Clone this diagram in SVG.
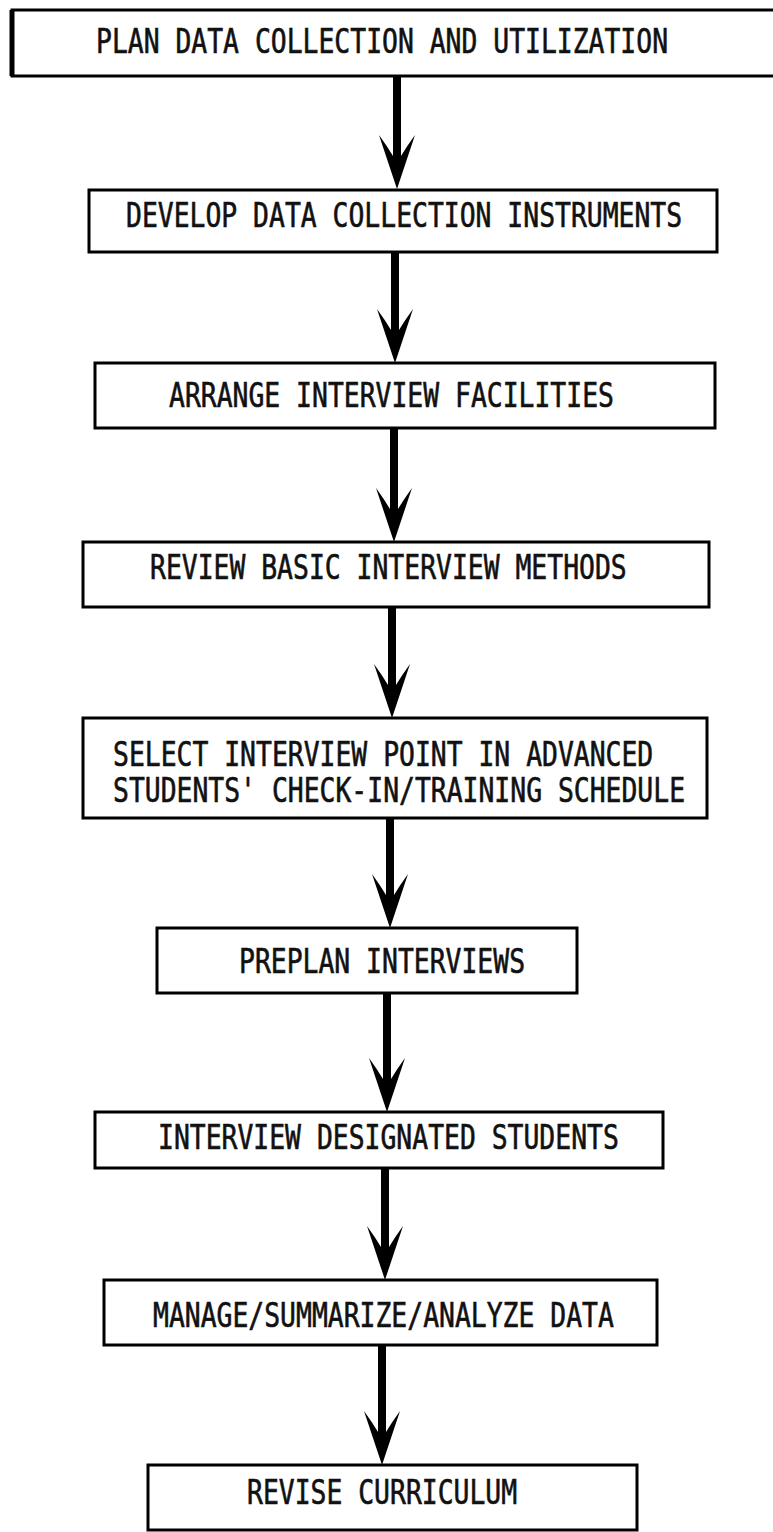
<svg xmlns="http://www.w3.org/2000/svg" xmlns:xlink="http://www.w3.org/1999/xlink" width="773" height="1532" viewBox="0 0 773 1532">
<style>
.box{fill:#fff;stroke:#000;stroke-width:3}
.lbl{font-family:"DejaVu Sans Mono","Liberation Mono",monospace;font-size:26.4px;fill:#111;stroke:#111;stroke-width:0.5}
.shaft{stroke:#000;stroke-width:8;fill:none}
.head{fill:#000}
</style>
<defs>
<path id="ah" class="head" d="M0,0 L-18,-54 Q-10,-43 -4,-33 L4,-33 Q10,-43 18,-54 Z"/>
</defs>
<rect width="773" height="1532" fill="#fff"/>
<g id="connectors">
<line class="shaft" x1="397" y1="76" x2="397" y2="160"/><use xlink:href="#ah" x="397" y="189"/>
<line class="shaft" x1="395" y1="252" x2="395" y2="335"/><use xlink:href="#ah" x="395" y="363"/>
<line class="shaft" x1="394" y1="428" x2="394" y2="514"/><use xlink:href="#ah" x="394" y="542"/>
<line class="shaft" x1="392" y1="607" x2="392" y2="690"/><use xlink:href="#ah" x="392" y="718"/>
<line class="shaft" x1="390" y1="818" x2="390" y2="900"/><use xlink:href="#ah" x="390" y="928"/>
<line class="shaft" x1="387" y1="993" x2="387" y2="1084"/><use xlink:href="#ah" x="387" y="1112"/>
<line class="shaft" x1="385" y1="1168" x2="385" y2="1252"/><use xlink:href="#ah" x="385" y="1280"/>
<line class="shaft" x1="382" y1="1345" x2="382" y2="1437"/><use xlink:href="#ah" x="382" y="1465"/>
</g>
<g id="n1"><rect class="box" x="12" y="10" width="780" height="66"/><path d="M12,10 V76" stroke="#000" stroke-width="5"/><text class="lbl" transform="translate(96,53) scale(1,1.25)">PLAN DATA COLLECTION AND UTILIZATION</text></g>
<g id="n2"><rect class="box" x="89" y="190" width="628" height="62"/><text class="lbl" transform="translate(126,227) scale(1,1.25)">DEVELOP DATA COLLECTION INSTRUMENTS</text></g>
<g id="n3"><rect class="box" x="95" y="363" width="620" height="65"/><text class="lbl" transform="translate(169,407) scale(1,1.25)">ARRANGE INTERVIEW FACILITIES</text></g>
<g id="n4"><rect class="box" x="83" y="542" width="626" height="65"/><text class="lbl" transform="translate(150,579) scale(1,1.25)">REVIEW BASIC INTERVIEW METHODS</text></g>
<g id="n5"><rect class="box" x="83" y="718" width="624" height="100"/><text class="lbl" transform="translate(113,766) scale(1,1.25)">SELECT INTERVIEW POINT IN ADVANCED</text><text class="lbl" transform="translate(113,802) scale(1,1.25)">STUDENTS' CHECK-IN/TRAINING SCHEDULE</text></g>
<g id="n6"><rect class="box" x="157" y="928" width="420" height="65"/><text class="lbl" transform="translate(239,973) scale(1,1.25)">PREPLAN INTERVIEWS</text></g>
<g id="n7"><rect class="box" x="95" y="1112" width="568" height="56"/><text class="lbl" transform="translate(158,1149) scale(1,1.25)">INTERVIEW DESIGNATED STUDENTS</text></g>
<g id="n8"><rect class="box" x="104" y="1280" width="553" height="65"/><text class="lbl" transform="translate(153,1327) scale(1,1.25)">MANAGE/SUMMARIZE/ANALYZE DATA</text></g>
<g id="n9"><rect class="box" x="148" y="1465" width="489" height="65"/><text class="lbl" transform="translate(247,1504) scale(1,1.25)">REVISE CURRICULUM</text></g>
</svg>
